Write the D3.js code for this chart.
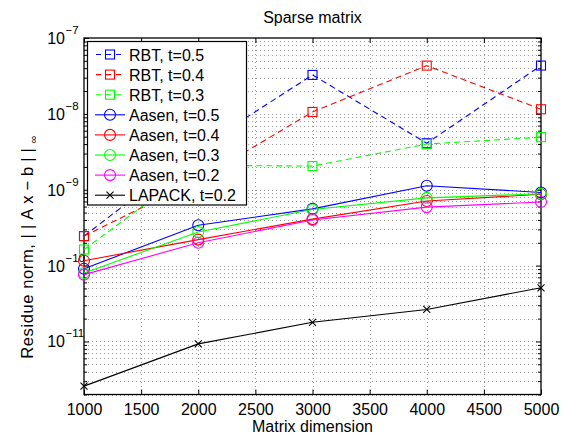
<!DOCTYPE html>
<html>
<head>
<meta charset="utf-8">
<script src="https://cdn.jsdelivr.net/npm/d3@7"></script>
<style>
  html, body { margin: 0; padding: 0; background: #fff; }
  svg text { font-family: "Liberation Sans", Arial, Helvetica, sans-serif; }
</style>
</head>
<body>
<svg id="chart" width="563" height="438"></svg>
<script>
// ---- data ----
const categories = [1000, 2000, 3000, 4000, 5000];
const rbt05    = [2.45e-10, 3.5e-9,  3.26e-8, 4.1e-9,  4.33e-8];
const rbt04    = [2.45e-10, 1.35e-9, 1.06e-8, 4.33e-8, 1.15e-8];
const rbt03    = [1.63e-10, 2.1e-9,  2.05e-9, 4.0e-9,  4.93e-9];
const aasen05  = [9.1e-11,  3.4e-10, 5.6e-10, 1.13e-9, 9.2e-10];
const aasen04  = [1.16e-10, 2.2e-10, 4.1e-10, 7.1e-10, 8.7e-10];
const aasen03  = [8.0e-11,  2.77e-10,5.5e-10, 7.8e-10, 8.85e-10];
const aasen02  = [7.6e-11,  2.0e-10, 4.0e-10, 5.9e-10, 6.9e-10];
const lapack02 = [2.58e-12, 9.3e-12, 1.79e-11, 2.64e-11, 5.1e-11];
const seriesNames = ["RBT, t=0.5", "RBT, t=0.4", "RBT, t=0.3", "Aasen, t=0.5", "Aasen, t=0.4", "Aasen, t=0.3", "Aasen, t=0.2", "LAPACK, t=0.2"];
const xTicks = [1000, 1500, 2000, 2500, 3000, 3500, 4000, 4500, 5000];
const yExponents = [-11, -10, -9, -8, -7];
const titleText = "Sparse matrix";
const xLabelText = "Matrix dimension";

// ---- styles ----
const series = [
  {name: seriesNames[0], values: rbt05, color: "#0000ff", dash: "6,4", marker: "square"},
  {name: seriesNames[1], values: rbt04, color: "#ff0000", dash: "6,4", marker: "square"},
  {name: seriesNames[2], values: rbt03, color: "#00ff00", dash: "6,4", marker: "square"},
  {name: seriesNames[3], values: aasen05, color: "#0000ff", dash: null, marker: "circle"},
  {name: seriesNames[4], values: aasen04, color: "#ff0000", dash: null, marker: "circle"},
  {name: seriesNames[5], values: aasen03, color: "#00ff00", dash: null, marker: "circle"},
  {name: seriesNames[6], values: aasen02, color: "#ff00ff", dash: null, marker: "circle"},
  {name: seriesNames[7], values: lapack02, color: "#000000", dash: null, marker: "cross"}
];

const L = 84, R = 541, T = 38, B = 394.5;
const svg = d3.select("#chart");
const x = d3.scaleLinear().domain([1000, 5000]).range([L, R]);
const y = d3.scaleLog().domain([2e-12, 1e-7]).range([B, T]);

// grid
const minor = [];
for (let e = -12; e <= -8; e++) for (let k = 1; k <= 9; k++) {
  const v = k * Math.pow(10, e);
  if (v >= 2e-12 && v <= 1e-7) minor.push(v);
}
const grid = svg.append("g").attr("stroke", "#9a9a9a").attr("stroke-width", 1).attr("stroke-dasharray", "1,3");
grid.selectAll("line.h").data(minor).join("line")
  .attr("x1", L).attr("x2", R)
  .attr("y1", d => Math.round(y(d)) + 0.5).attr("y2", d => Math.round(y(d)) + 0.5);
grid.selectAll("line.v").data(xTicks.slice(1, -1)).join("line")
  .attr("class", "v")
  .attr("x1", d => Math.round(x(d)) + 0.5).attr("x2", d => Math.round(x(d)) + 0.5)
  .attr("y1", T).attr("y2", B);

// axes with D3
const xAxisB = d3.axisBottom(x).tickValues(xTicks).tickSize(-5).tickPadding(9).tickFormat(d3.format("d"));
const gx = svg.append("g").attr("transform", `translate(0,${B})`).call(xAxisB);
gx.select(".domain").remove();
gx.selectAll("text").attr("font-size", 16).attr("fill", "#000");
const gxt = svg.append("g").attr("transform", `translate(0,${T})`).call(d3.axisTop(x).tickValues(xTicks).tickSize(-5).tickFormat(""));
gxt.select(".domain").remove();

const majorVals = yExponents.map(e => Math.pow(10, e));
const minorOnly = minor.filter(v => !majorVals.some(m => Math.abs(m - v) / m < 1e-6));
[[d3.axisLeft, L], [d3.axisRight, R]].forEach(([fn, pos]) => {
  const g1 = svg.append("g").attr("transform", `translate(${pos},0)`).call(fn(y).tickValues(majorVals).tickSize(-5).tickFormat(""));
  g1.select(".domain").remove();
  const g2 = svg.append("g").attr("transform", `translate(${pos},0)`).call(fn(y).tickValues(minorOnly).tickSize(-3).tickFormat(""));
  g2.select(".domain").remove();
});

// y tick labels 10^e
const yl = svg.append("g");
yExponents.forEach(e => {
  const yy = y(Math.pow(10, e));
  yl.append("text").attr("x", 65).attr("y", yy + 6).attr("text-anchor", "end").attr("font-size", 16).text("10");
  yl.append("text").attr("x", 65.5).attr("y", yy - 4).attr("font-size", 11.5).text("\u2212" + Math.abs(e));
});

// frame
svg.append("rect").attr("x", L).attr("y", T).attr("width", R - L).attr("height", B - T)
  .attr("fill", "none").attr("stroke", "#000").attr("stroke-width", 1.3);

// series
const line = d3.line().x((d, i) => x(categories[i])).y(d => y(d));
function drawMarker(g, m, cx, cy, color) {
  if (m === "square") {
    g.append("rect").attr("x", cx - 4.5).attr("y", cy - 4.5).attr("width", 9).attr("height", 9)
      .attr("fill", "none").attr("stroke", color).attr("stroke-width", 1.1);
  } else if (m === "circle") {
    g.append("circle").attr("cx", cx).attr("cy", cy).attr("r", 5.5)
      .attr("fill", "none").attr("stroke", color).attr("stroke-width", 1.1);
  } else {
    const s = 3.5;
    g.append("path").attr("d", `M${cx - s},${cy - s}L${cx + s},${cy + s}M${cx - s},${cy + s}L${cx + s},${cy - s}`)
      .attr("stroke", color).attr("stroke-width", 1.1).attr("fill", "none");
  }
}
const plot = svg.append("g");
series.forEach(s => {
  const g = plot.append("g");
  g.append("path").datum(s.values).attr("d", line).attr("fill", "none")
    .attr("stroke", s.color).attr("stroke-width", 1.1)
    .attr("stroke-dasharray", s.dash);
  s.values.forEach((v, i) => drawMarker(g, s.marker, x(categories[i]), y(v), s.color));
});

// legend
const lg = svg.append("g");
lg.append("rect").attr("x", 87.5).attr("y", 41.5).attr("width", 159).attr("height", 163.5)
  .attr("fill", "#fff").attr("stroke", "#000").attr("stroke-width", 1.2);
series.forEach((s, i) => {
  const yy = 54.5 + i * 20.1;
  lg.append("line").attr("x1", 95).attr("x2", 125).attr("y1", yy).attr("y2", yy)
    .attr("stroke", s.color).attr("stroke-width", 1.1).attr("stroke-dasharray", s.dash ? "5,5" : null)
    .attr("stroke-dashoffset", s.dash ? -1 : null);
  drawMarker(lg, s.marker, 110, yy, s.color);
  lg.append("text").attr("x", 129).attr("y", yy + 6).attr("font-size", 16).text(s.name);
});

// title & labels
svg.append("text").attr("x", (L + R) / 2).attr("y", 23).attr("text-anchor", "middle").attr("font-size", 16).text(titleText);
svg.append("text").attr("x", (L + R) / 2).attr("y", 432).attr("text-anchor", "middle").attr("font-size", 16).text(xLabelText);
const ylab = svg.append("text").attr("transform", "translate(33,247) rotate(-90)").attr("text-anchor", "middle").attr("font-size", 16.5);
ylab.append("tspan").attr("letter-spacing", 0.6).text("Residue norm, ");
ylab.append("tspan").attr("letter-spacing", 5).text("||Ax\u2212b||");
ylab.append("tspan").attr("font-size", 11).attr("dy", 4).text("\u221e");
</script>
</body>
</html>
